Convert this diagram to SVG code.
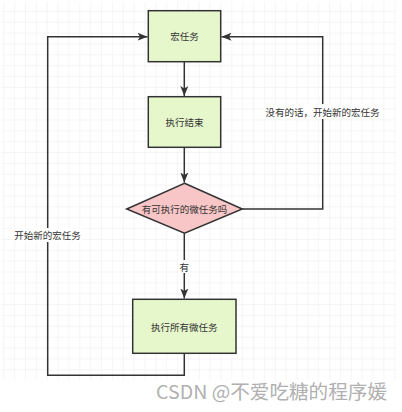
<svg xmlns="http://www.w3.org/2000/svg" width="402" height="412" viewBox="0 0 402 412">
<defs>
<pattern id="grid" x="3.3" y="0" width="10.86" height="10.86" patternUnits="userSpaceOnUse">
<path d="M0 0H10.86M0 0V10.86" fill="none" stroke="#ececec" stroke-width="1"/>
</pattern>
<marker id="arr" viewBox="0 0 10 8" refX="10" refY="4" markerWidth="10" markerHeight="8" markerUnits="userSpaceOnUse" orient="auto">
<path d="M0 0L10 4L0 8L2.5 4Z" fill="#333"/>
</marker>
<style>
.box{fill:#e6f7cc;stroke:#333;stroke-width:1.5}
.dia{fill:#f8c6c6;stroke:#333;stroke-width:1.5}
.t{font-family:"Noto Sans CJK SC","Liberation Sans",sans-serif;font-size:9.5px;fill:#333;text-anchor:middle;dominant-baseline:central}
.c{fill:none;stroke:#333;stroke-width:1.5}
</style>
</defs>
<rect x="0" y="0" width="402" height="412" fill="#fff"/>
<rect x="2" y="2" width="394" height="378" fill="url(#grid)"/>
<g id="connectors">
<path class="c" d="M184.3 62V96" marker-end="url(#arr)"/>
<path class="c" d="M184.3 147.5V182.5" marker-end="url(#arr)"/>
<path class="c" d="M184.3 233.5V298.5" marker-end="url(#arr)"/>
<path class="c" d="M242.3 209H322.7V36.7H221.5" marker-end="url(#arr)"/>
<path class="c" d="M184.3 353.5V375.3H47.7V36.7H147.5" marker-end="url(#arr)"/>
<rect x="178" y="260" width="12" height="13" fill="#fff"/>
<text class="t" x="184.3" y="266.7">有</text>
<rect x="264" y="104" width="117" height="15" fill="#fff"/>
<text class="t" x="322.5" y="111.7">没有的话，开始新的宏任务</text>
<rect x="13" y="228" width="69" height="14" fill="#fff"/>
<text class="t" x="47.5" y="235">开始新的宏任务</text>
</g>
<g id="macro">
<rect class="box" x="148.3" y="10.7" width="72.4" height="51"/>
<text class="t" x="184.5" y="36.2">宏任务</text>
</g>
<g id="end">
<rect class="box" x="148.3" y="96.7" width="72.4" height="50.6"/>
<text class="t" x="184.5" y="122">执行结束</text>
</g>
<g id="decision">
<path class="dia" d="M184.5 183.3L242.3 209L184.5 233.3L126.7 209Z"/>
<text class="t" x="184.5" y="209">有可执行的微任务吗</text>
</g>
<g id="micro">
<rect class="box" x="132.7" y="299.3" width="103.3" height="54"/>
<text class="t" x="184.3" y="326.5">执行所有微任务</text>
</g>
<text x="156" y="399" font-family="'Noto Sans CJK SC','Liberation Sans',sans-serif" font-size="19" fill="#b0b0b0" textLength="231" lengthAdjust="spacingAndGlyphs">CSDN @不爱吃糖的程序媛</text>
</svg>
